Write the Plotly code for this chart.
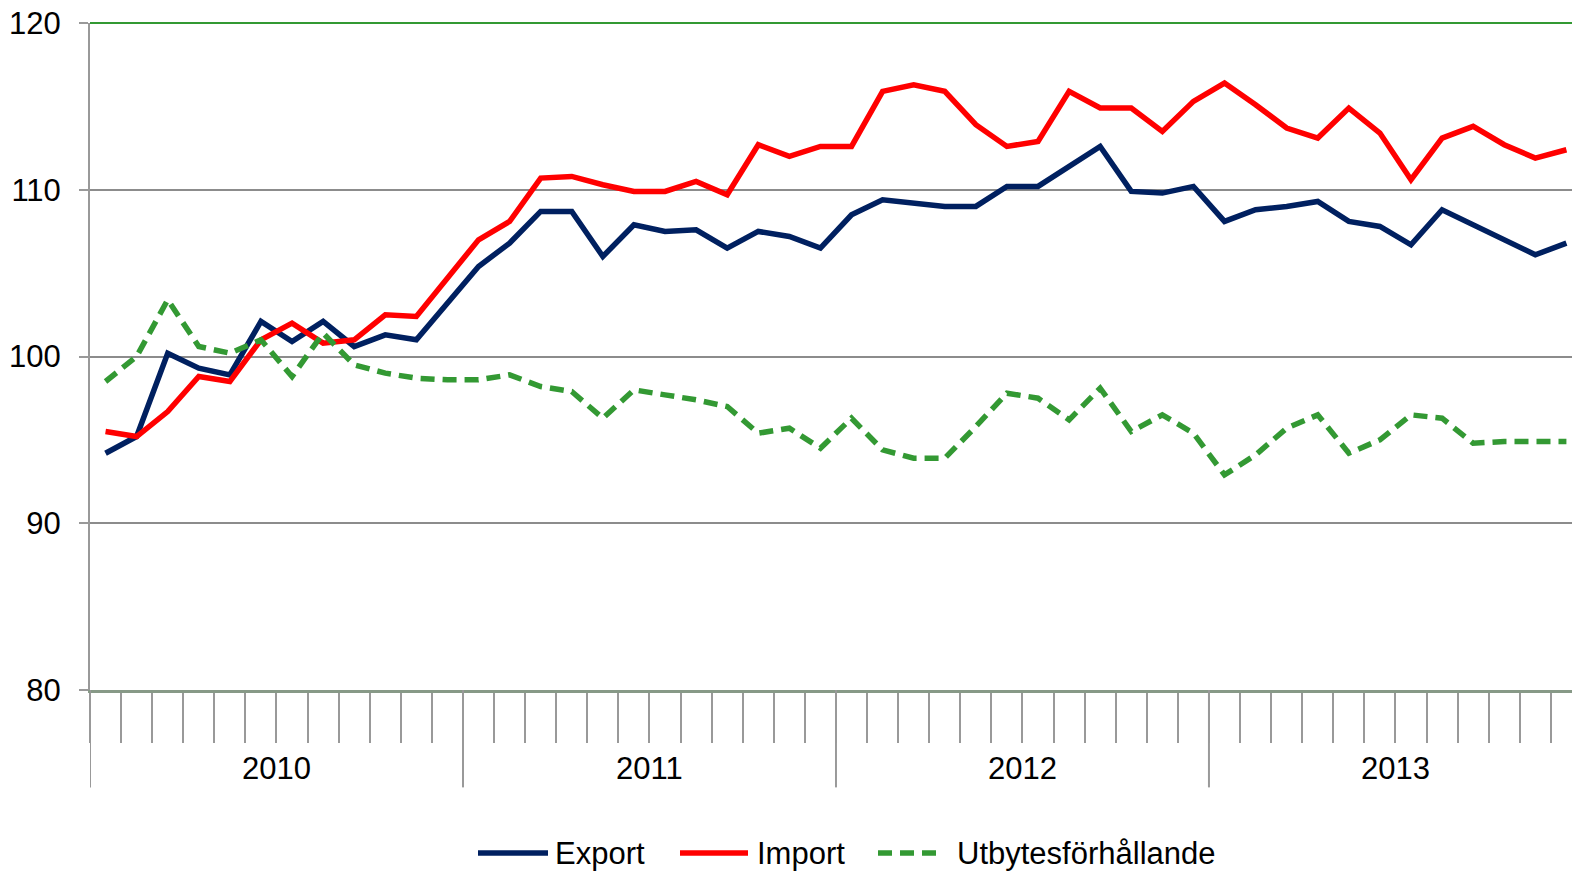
import plotly.graph_objects as go

# monthly index values, Jan 2010 - Dec 2013
months = [f"{y}-{m:02d}" for y in (2010, 2011, 2012, 2013) for m in range(1, 13)]
years = ["2010", "2011", "2012", "2013"]

export = [94.2, 95.2, 100.2, 99.3, 98.9, 102.1, 100.9, 102.1, 100.6, 101.3, 101.0, 103.2,
          105.4, 106.8, 108.7, 108.7, 106.0, 107.9, 107.5, 107.6, 106.5, 107.5, 107.2, 106.5,
          108.5, 109.4, 109.2, 109.0, 109.0, 110.2, 110.2, 111.4, 112.6, 109.9, 109.8, 110.2,
          108.1, 108.8, 109.0, 109.3, 108.1, 107.8, 106.7, 108.8, 107.9, 107.0, 106.1, 106.8]

imports = [95.5, 95.2, 96.7, 98.8, 98.5, 101.0, 102.0, 100.8, 101.0, 102.5, 102.4, 104.7,
           107.0, 108.1, 110.7, 110.8, 110.3, 109.9, 109.9, 110.5, 109.7, 112.7, 112.0, 112.6,
           112.6, 115.9, 116.3, 115.9, 113.9, 112.6, 112.9, 115.9, 114.9, 114.9, 113.5, 115.3,
           116.4, 115.1, 113.7, 113.1, 114.9, 113.4, 110.6, 113.1, 113.8, 112.7, 111.9, 112.4]

terms = [98.5, 100.0, 103.4, 100.6, 100.2, 101.0, 98.8, 101.4, 99.5, 99.0, 98.7, 98.6,
         98.6, 98.9, 98.2, 97.9, 96.3, 98.0, 97.7, 97.4, 97.0, 95.4, 95.7, 94.5,
         96.3, 94.4, 93.9, 93.9, 95.8, 97.8, 97.5, 96.2, 98.1, 95.5, 96.5, 95.4,
         92.9, 94.1, 95.7, 96.5, 94.2, 95.0, 96.5, 96.3, 94.8, 94.9, 94.9, 94.9]

x = list(range(len(months)))
font = "Liberation Sans, Arial, sans-serif"

series = [
    ("Export", export, dict(color="#002060", width=5.5)),
    ("Import", imports, dict(color="#ff0000", width=5.5)),
    ("Utbytesförhållande", terms, dict(color="#339933", width=5.5, dash="14px,8px")),
]

fig = go.Figure()
for name, vals, line in series:
    fig.add_trace(go.Scatter(x=x, y=vals, name=name, mode="lines", text=months,
                             line=line, showlegend=False))

# top border line in green
fig.add_shape(type="line", xref="paper", yref="paper", x0=0, x1=1, y0=1, y1=1,
              line=dict(color="#339933", width=2))

# longer separators between years + year labels
for k in range(len(years)):
    fig.add_shape(type="line", xref="x", yref="paper", x0=12 * k - 0.5, x1=12 * k - 0.5,
                  y0=0, y1=-0.146, line=dict(color="#999999", width=2))
    fig.add_annotation(x=12 * k + 5.5, y=-0.118, xref="x", yref="paper", text=years[k],
                       showarrow=False, font=dict(size=31, color="black"), yanchor="middle")

# legend drawn by hand (long line samples like the original)
legend_pos = [(478, 548, 553), (680, 748, 755), (878, 942, 955)]
ly = (690 - 853) / 667
for (name, vals, line), (l0, l1, tx) in zip(series, legend_pos):
    fig.add_shape(type="line", xref="paper", yref="paper",
                  x0=(l0 - 90) / 1482, x1=(l1 - 90) / 1482, y0=ly, y1=ly, line=line)
    fig.add_annotation(x=(tx - 90) / 1482, y=ly, xref="paper", yref="paper", text=name,
                       showarrow=False, xanchor="left", yanchor="middle",
                       font=dict(size=31, color="black"))

fig.update_layout(
    width=1572, height=873,
    margin=dict(l=90, r=0, t=23, b=183),
    plot_bgcolor="white", paper_bgcolor="white",
    font=dict(family=font, size=31, color="black"),
    hovermode="x unified",
)
fig.update_xaxes(
    range=[-0.5, 47.18], showgrid=False, zeroline=False,
    showline=True, linecolor="#879987", linewidth=3,
    tickvals=[i - 0.5 for i in range(len(months))], ticks="outside", ticklen=50,
    tickcolor="#999999", tickwidth=2, showticklabels=False,
)
fig.update_yaxes(
    range=[80, 120], dtick=10, showgrid=True, gridcolor="#8c8c8c", gridwidth=2,
    zeroline=False, showline=True, linecolor="#999999", linewidth=2,
    ticks="outside", ticklen=9, tickcolor="#999999", tickwidth=2,
    ticklabelstandoff=12, tickfont=dict(size=31),
)

fig.write_html("out.html", config={"displayModeBar": False},
               post_script="document.body.style.margin='0';")
